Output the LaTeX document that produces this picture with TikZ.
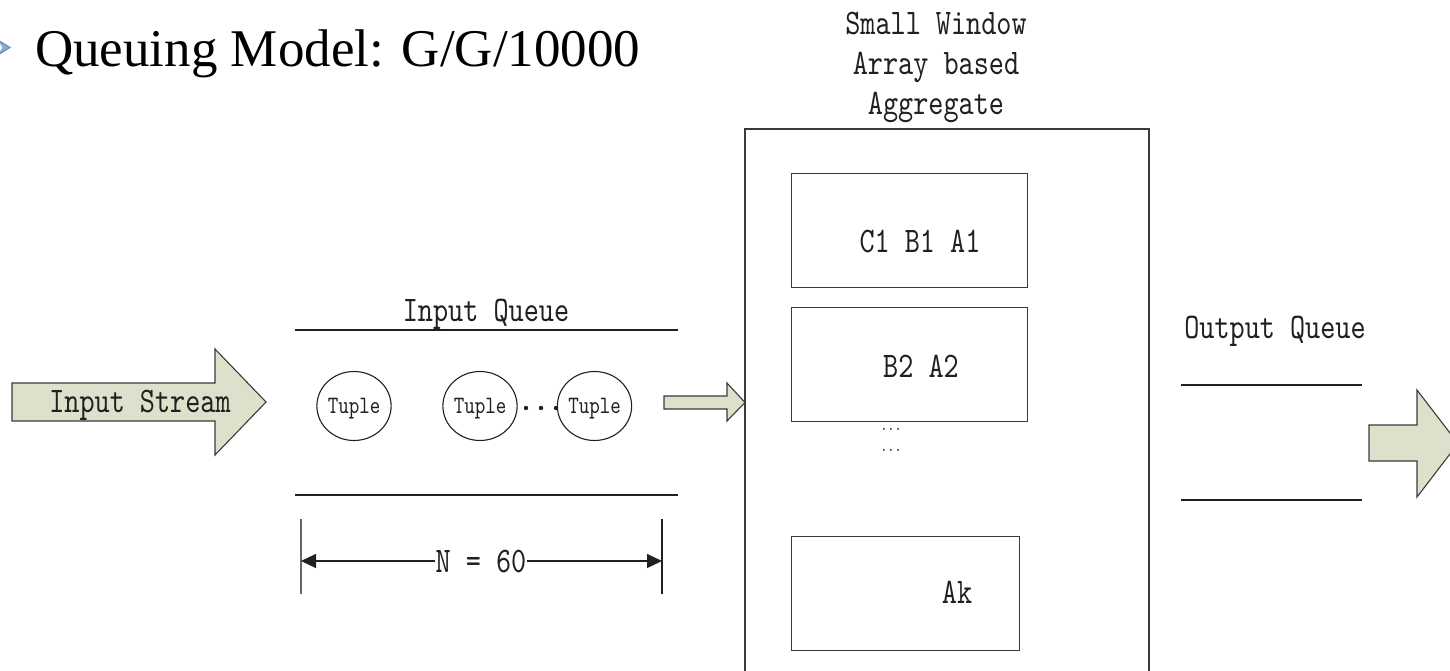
\documentclass[tikz,border=0pt]{standalone}
\usepackage{fontspec}
\setmainfont{Liberation Serif}
\newfontfamily\monof{lmmono10-regular.otf}[FakeStretch=0.8]
\usetikzlibrary{arrows.meta,shapes.geometric}
\definecolor{arrowfill}{HTML}{DDE1CB}
\definecolor{edge}{HTML}{3A3A3A}
\definecolor{ink}{HTML}{202020}
\definecolor{bulletblue}{HTML}{86AEDD}

\begin{document}
\begin{tikzpicture}[x=1pt,y=-1pt,
  lbl/.style={font=\monof\fontsize{36}{40}\selectfont, inner sep=0, text=ink, anchor=base},
  frame/.style={draw=edge, line width=1.3pt},
  rule/.style={draw=ink, line width=1.3pt},
  blockarrow/.style={draw=edge, line width=1.1pt, fill=arrowfill, line join=miter},
  tuple/.style={ellipse, draw=ink, line width=1.1pt, minimum width=66pt, minimum height=69pt,
    inner sep=0, text depth=0pt, text=ink, font=\monof\fontsize{25}{28}\selectfont},
  dimarrow/.style={draw=ink, line width=1.1pt, -{Triangle[length=15pt,width=14pt]}}
]
\useasboundingbox (0,0) rectangle (1450,671);
\clip (0,0) rectangle (1450,671);

% title with its bullet
\fill[bulletblue!80!black] (-1,40) -- (11,47.5) -- (-1,55) -- (3,47.5) -- cycle;
\fill[bulletblue] (-1,42) -- (9,47.5) -- (-1,53) -- (2.5,47.5) -- cycle;
\node[anchor=base west, inner sep=0, font=\fontsize{53}{60}\selectfont] (title) at (35,67) {Queuing Model: G/G/10000};

% incoming stream
\draw[blockarrow] (12,383) -- (215,383) -- (215,349) -- (266,402) -- (215,455) -- (215,421) -- (12,421) -- cycle;
\node[lbl] (instream) at (140,412) {Input Stream};

% input queue
\node[lbl] (inq) at (486,321) {Input Queue};
\coordinate (iqtl) at (295,330);
\coordinate (iqtr) at (678,330);
\coordinate (iqbl) at (295,495);
\coordinate (iqbr) at (678,495);
\draw[rule] (iqtl) -- (iqtr);
\draw[rule] (iqbl) -- (iqbr);

\node[tuple] (t1) at (354,406) {Tuple};
\node[tuple] (t2) at (480,406) {Tuple};
\node[tuple] (t3) at (594.5,406) {Tuple};
\foreach \x in {526,541,556} \fill[ink] (\x,408) circle (2.2);

% queue length
\coordinate (dl0) at (301,519);
\coordinate (dl1) at (301,594);
\coordinate (dr0) at (662,519);
\coordinate (dr1) at (662,594);
\draw[draw=black!60, line width=1.2pt] (dl0) -- (dl1);
\draw[rule] (dr0) -- (dr1);
\node[lbl] (dim) at (481,572) {N = 60};
\draw[dimarrow] (dim.west) -- (dim.west -| dl0);
\draw[dimarrow] (dim.east) -- (dim.east -| dr0);

% hand-over to the aggregate
\draw[blockarrow] (664,396) -- (727,396) -- (727,383) -- (745,402.5) -- (727,421) -- (727,409) -- (664,409) -- cycle;

% aggregate operator
\node[lbl] (h1) at (936,35) {Small Window};
\node[lbl] (h2) at (936,75) {Array based};
\node[lbl] (h3) at (936,115) {Aggregate};
\draw[frame] (745,129) rectangle (1149,690);

\node[frame, rectangle, minimum width=236pt, minimum height=114pt, anchor=north west] (w1) at (791,173) {};
\node[lbl] (w1t) at (920,252) {C1 B1 A1};
\node[frame, rectangle, minimum width=236pt, minimum height=114pt, anchor=north west] (w2) at (791,307) {};
\node[lbl] (w2t) at (921,377) {B2 A2};
\node[lbl, font=\monof\fontsize{17}{20}\selectfont] (more1) at (891,430) {...};
\node[lbl, font=\monof\fontsize{17}{20}\selectfont] (more2) at (891,451) {...};
\node[frame, rectangle, minimum width=228pt, minimum height=114pt, anchor=north west] (wk) at (791,536) {};
\node[lbl] (wkt) at (957,603) {Ak};

% output queue
\node[lbl] (outq) at (1275,338) {Output Queue};
\coordinate (oqtl) at (1181,385);
\coordinate (oqtr) at (1362,385);
\coordinate (oqbl) at (1181,500);
\coordinate (oqbr) at (1362,500);
\draw[rule] (oqtl) -- (oqtr);
\draw[rule] (oqbl) -- (oqbr);
\draw[blockarrow] (1369,425) -- (1417,425) -- (1417,390) -- (1458,443.5) -- (1417,497) -- (1417,461) -- (1369,461) -- cycle;
\end{tikzpicture}
\end{document}
